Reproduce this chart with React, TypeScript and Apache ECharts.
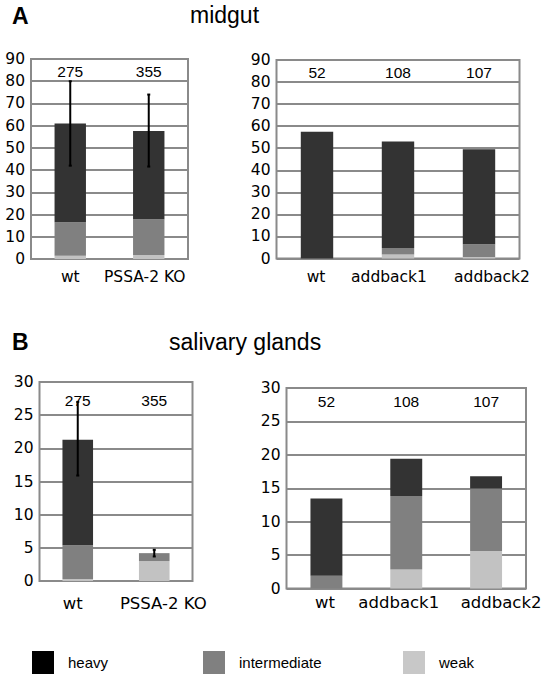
import React, { useEffect, useRef } from 'react';
import * as echarts from 'echarts';

// ---------- DATA ----------
// Panel A (midgut), left: wt vs PSSA-2 KO
const catsA1 = ['wt', 'PSSA-2 KO'];
const nA1 = ['275', '355'];
const weakA1 = [1.5, 1.8];
const interA1 = [15, 16.1];
const heavyA1 = [44.5, 39.7];
const errLowA1 = [42, 41.6];
const errHighA1 = [80, 74];

// Panel A (midgut), right: wt vs addbacks
const catsA2 = ['wt', 'addback1', 'addback2'];
const nA2 = ['52', '108', '107'];
const weakA2 = [0, 1.8, 0.7];
const interA2 = [0, 3, 5.8];
const heavyA2 = [57.5, 48.2, 43];

// Panel B (salivary glands), left
const catsB1 = ['wt', 'PSSA-2 KO'];
const nB1 = ['275', '355'];
const weakB1 = [0.3, 3.0];
const interB1 = [5.1, 1.2];
const heavyB1 = [15.9, 0];
const errLowB1 = [15.9, 3.7];
const errHighB1 = [27, 4.7];

// Panel B (salivary glands), right
const catsB2 = ['wt', 'addback1', 'addback2'];
const nB2 = ['52', '108', '107'];
const weakB2 = [0, 2.85, 5.6];
const interB2 = [1.9, 11.0, 9.35];
const heavyB2 = [11.55, 5.55, 1.85];

const levelNames = ['weak', 'intermediate', 'heavy'];

// ---------- STYLE / LAYOUT ----------
const FONT_V = '"DejaVu Sans", Verdana, sans-serif';
const FONT_A = '"Liberation Sans", Arial, sans-serif';
const GRID_COLOR = '#8a8a8a';
const BAR_COLORS: Record<string, string> = { weak: '#c2c2c2', intermediate: '#808080', heavy: '#333333' };
const LEGEND_COLORS: Record<string, string> = { weak: '#c8c8c8', intermediate: '#808080', heavy: '#000000' };

type Panel = {
  cats: string[]; n: string[]; weak: number[]; inter: number[]; heavy: number[];
  errLow?: number[]; errHigh?: number[];
  max: number; interval: number;
  left: number; top: number; width: number; height: number;
  catMargin: number; catFont: number; nMargin: number; shifts: number[];
};

const panels: Panel[] = [
  { cats: catsA1, n: nA1, weak: weakA1, inter: interA1, heavy: heavyA1, errLow: errLowA1, errHigh: errHighA1,
    max: 90, interval: 10, left: 31, top: 59, width: 157, height: 200, catMargin: 9.5, catFont: 15.5, nMargin: 12, shifts: [0, -4] },
  { cats: catsA2, n: nA2, weak: weakA2, inter: interA2, heavy: heavyA2,
    max: 90, interval: 10, left: 276.5, top: 60, width: 243, height: 198.5, catMargin: 10, catFont: 15.5, nMargin: 12, shifts: [-1, -9, 13] },
  { cats: catsB1, n: nB1, weak: weakB1, inter: interB1, heavy: heavyB1, errLow: errLowB1, errHigh: errHighB1,
    max: 30, interval: 5, left: 39.5, top: 382, width: 153, height: 199, catMargin: 14, catFont: 16.5, nMargin: 18.5, shifts: [-5, 9] },
  { cats: catsB2, n: nB2, weak: weakB2, inter: interB2, heavy: heavyB2,
    max: 30, interval: 5, left: 286.5, top: 388, width: 239.5, height: 200.5, catMargin: 5.5, catFont: 16.5, nMargin: 13.5, shifts: [-1.5, -7.5, 15] },
];

function shiftPad(s: number) {
  return s >= 0 ? [0, 0, 0, 2 * s] : [0, -2 * s, 0, 0];
}

function buildOption() {
  const grid: any[] = [];
  const xAxis: any[] = [];
  const yAxis: any[] = [];
  const series: any[] = [];

  panels.forEach((p, i) => {
    grid.push({
      left: p.left, top: p.top, width: p.width, height: p.height,
      show: true, borderColor: GRID_COLOR, borderWidth: 2, backgroundColor: 'transparent',
      outerBoundsMode: 'none', containLabel: false,
    });
    xAxis.push({
      gridIndex: i, type: 'category', position: 'bottom',
      data: p.cats.map((c, j) => ({ value: c, textStyle: { padding: shiftPad(p.shifts[j]) } })),
      axisLine: { show: false }, axisTick: { show: false }, splitLine: { show: false },
      axisLabel: { interval: 0, color: '#000', fontSize: p.catFont, fontFamily: FONT_V, margin: p.catMargin, hideOverlap: false },
    });
    xAxis.push({
      gridIndex: i, type: 'category', position: 'top',
      data: p.n,
      axisLine: { show: false }, axisTick: { show: false }, splitLine: { show: false },
      axisLabel: { inside: true, interval: 0, color: '#000', fontSize: 15.5, fontFamily: FONT_A, margin: p.nMargin, verticalAlign: 'middle', hideOverlap: false },
    });
    yAxis.push({
      gridIndex: i, type: 'value', min: 0, max: p.max, interval: p.interval,
      axisLine: { show: false }, axisTick: { show: false },
      axisLabel: { color: '#000', fontSize: 15.5, fontFamily: FONT_V, margin: 6 },
      splitLine: { show: true, lineStyle: { color: GRID_COLOR, width: 2 } },
    });
    const vals: Record<string, number[]> = { weak: p.weak, intermediate: p.inter, heavy: p.heavy };
    levelNames.forEach((lv) => {
      series.push({
        type: 'bar', name: lv, xAxisIndex: 2 * i, yAxisIndex: i, stack: 'stack' + i,
        data: vals[lv], barWidth: '40%', itemStyle: { color: BAR_COLORS[lv] }, silent: true,
      });
    });
    if (p.errLow && p.errHigh) {
      const lo = p.errLow, hi = p.errHigh;
      series.push({
        type: 'custom', name: 'err' + i, xAxisIndex: 2 * i, yAxisIndex: i, z: 10, silent: true,
        data: p.cats.map((_, j) => [j, lo[j], hi[j]]),
        renderItem: (_params: any, api: any) => {
          const a = api.coord([api.value(0), api.value(1)]);
          const b = api.coord([api.value(0), api.value(2)]);
          const st = { stroke: '#000', lineWidth: 2 };
          return {
            type: 'group',
            children: [
              { type: 'line', shape: { x1: a[0], y1: a[1], x2: b[0], y2: b[1] }, style: st },
              { type: 'line', shape: { x1: a[0] - 1.5, y1: a[1], x2: a[0] + 1.5, y2: a[1] }, style: st },
              { type: 'line', shape: { x1: b[0] - 1.5, y1: b[1], x2: b[0] + 1.5, y2: b[1] }, style: st },
            ],
          };
        },
      });
    }
  });

  const legendPos: Record<string, number> = { heavy: 32, intermediate: 203, weak: 403 };
  const legend = ['heavy', 'intermediate', 'weak'].map((lv) => ({
    data: [{ name: lv, icon: 'rect', itemStyle: { color: LEGEND_COLORS[lv], borderWidth: 0 } }],
    left: legendPos[lv], top: 651, padding: 0, itemWidth: 22, itemHeight: 23,
    selectedMode: false,
    textStyle: { fontSize: 15, fontFamily: FONT_A, color: '#000', padding: [3, 0, 0, 9] },
  }));

  const titleText = (text: string, x: number, y: number, bold: boolean) => ({
    type: 'text', x, y, silent: true,
    style: { text, fontSize: 23, fontFamily: FONT_A, fontWeight: bold ? 'bold' : 'normal', fill: '#000', verticalAlign: 'middle', align: 'left' },
  });

  return {
    animation: false,
    backgroundColor: '#fff',
    grid, xAxis, yAxis, series, legend,
    graphic: [
      titleText('A', 12, 15.5, true),
      titleText('midgut', 190, 15, false),
      titleText('B', 12, 342, true),
      titleText('salivary glands', 169, 342, false),
    ],
  };
}

export default function App() {
  const ref = useRef<HTMLDivElement>(null);
  useEffect(() => {
    if (!ref.current) return;
    const chart = echarts.init(ref.current, undefined, { renderer: 'svg' });
    chart.setOption(buildOption() as any);
    return () => chart.dispose();
  }, []);
  return <div ref={ref} style={{ position: 'absolute', left: 0, top: 0, width: 551, height: 680 }} />;
}
